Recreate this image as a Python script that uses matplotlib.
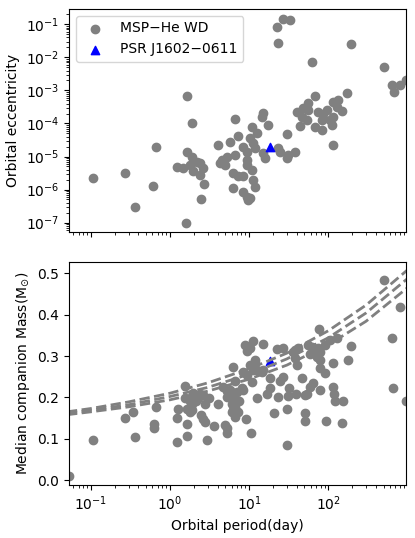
import numpy as np
import matplotlib
matplotlib.use("Agg")
import matplotlib.pyplot as plt
from matplotlib.ticker import LogLocator

# MSP - He WD binaries : orbital period (day) vs eccentricity
period_ecc = [0.105, 0.267, 0.361, 0.616, 0.659, 1.21, 1.47, 1.58, 1.66, 1.66,
              1.88, 1.88, 1.79, 2.17, 2.39, 2.64, 1.97, 2.39, 2.72, 2.47,
              4.08, 4.29, 4.50, 5.2, 5.74, 6.64, 7.31, 6.64, 4.96, 6.32,
              7.31, 8.45, 6.32, 8.45, 9.31, 9.78, 8.45, 9.31, 10.3, 10.8,
              11.3, 11.9, 12.5, 14.9, 14.4, 17.5, 15.1, 15.9, 9.31, 9.31,
              10.8, 11.3, 11.9, 10.3, 23.4, 24.6, 29.9, 31.3, 29.9, 38.0,
              22.3, 23.4, 27.1, 32.9, 63.0, 68.1, 171, 134, 116, 148,
              56.1, 48.5, 39.9, 56.1, 46.2, 53.5, 44.0, 68.1, 82.6, 75.0,
              86.8, 95.6, 82.6, 105, 116, 128, 111, 116, 192, 513,
              634, 679, 809, 950]
ecc = [2.2e-6, 3.1e-6, 3.0e-7, 1.3e-6, 2.0e-5, 4.9e-6, 4.4e-6, 9.5e-8, 1.4e-5, 6.8e-4,
       1.06e-4, 9.9e-6, 5.6e-6, 7.0e-6, 6.2e-6, 4.4e-6, 3.7e-6, 2.8e-6, 1.5e-6, 5.1e-7,
       2.2e-5, 6.5e-6, 7.9e-6, 9.9e-6, 2.8e-5, 1.37e-4, 4.2e-5, 1.1e-5, 5.6e-6, 3.1e-6,
       2.6e-6, 2.5e-6, 1.1e-6, 8.7e-7, 6.1e-7, 4.9e-7, 2.0e-5, 1.4e-5, 3.6e-5, 8.0e-5,
       2.5e-5, 1.8e-5, 5.0e-5, 2.1e-4, 1.6e-4, 9.0e-5, 1.25e-5, 8.8e-6, 7.9e-6, 5.6e-6,
       3.9e-6, 2.0e-6, 1.2e-6, 5.4e-7, 1.8e-5, 1.4e-5, 4.8e-5, 1.1e-5, 8.8e-6, 1.4e-5,
       0.085, 0.028, 0.142, 0.135, 7.4e-3, 7.0e-4, 8.2e-4, 5.1e-4, 4.6e-4, 2.45e-4,
       4.1e-4, 2.9e-4, 2.3e-4, 2.6e-4, 1.6e-4, 1.3e-4, 8.4e-5, 7.7e-5, 6.4e-5, 2.3e-4,
       2.0e-4, 2.6e-4, 1.3e-4, 1.3e-4, 1.6e-4, 3.2e-4, 9.0e-5, 2.2e-5, 0.025, 5.2e-3,
       1.46e-3, 9.2e-4, 1.46e-3, 2.1e-3]

# orbital period (day) vs median companion mass (Msun)
period_mass = [0.053, 0.105, 0.27, 0.34, 0.36, 0.62, 0.62, 0.66,
               1.21, 1.23, 1.25, 1.55, 1.55, 1.62, 1.62, 1.66, 1.79, 1.88, 1.97, 2.11,
               2.17, 2.39, 2.28, 2.44, 2.64, 2.77, 2.97, 3.14, 2.77, 3.60,
               4.08, 4.96, 5.20, 5.20, 4.72, 5.31, 6.20, 6.64, 5.74, 6.32,
               6.02, 6.64, 6.02, 6.64, 7.53, 8.06, 8.45, 9.14, 8.87, 9.50,
               11.1, 15.1, 9.31, 10.3, 11.9, 12.5, 14.4, 10.8, 6.96, 8.45,
               7.31, 10.5, 12.7, 16.7, 18.4, 20.6, 22.7, 23.4, 27.1, 24.6,
               29.9, 30.4, 32.3, 31.3, 39.2, 38.0, 39.9, 46.2, 50.9, 50.9,
               54.5, 58.9, 64.9, 75.0, 77.3, 78.8, 78.8, 91.1, 93.8, 116,
               114, 118, 122, 128, 152, 148, 180, 192, 513, 634,
               666, 809, 950, 56.1, 61.8, 68.1, 58.9, 78.8, 91.1, 105,
               78.8, 71.5, 36.3, 38.0, 41.9, 27.1, 10.3, 11.9, 15.1, 11.3,
               18.4, 50.9, 5.20, 6.32, 1.79, 1.88, 2.64, 5.74, 6.32]
mass = [0.010, 0.097, 0.149, 0.164, 0.103, 0.135, 0.125, 0.176,
        0.151, 0.091, 0.171, 0.227, 0.199, 0.172, 0.135, 0.107, 0.165, 0.183, 0.210, 0.190,
        0.202, 0.207, 0.198, 0.157, 0.148, 0.140, 0.097, 0.199, 0.184, 0.131,
        0.185, 0.133, 0.125, 0.113, 0.226, 0.216, 0.274, 0.240, 0.202, 0.210,
        0.184, 0.177, 0.165, 0.153, 0.190, 0.222, 0.262, 0.147, 0.327, 0.312,
        0.336, 0.328, 0.254, 0.278, 0.282, 0.266, 0.262, 0.238, 0.214, 0.218,
        0.165, 0.113, 0.199, 0.208, 0.222, 0.161, 0.317, 0.202, 0.250, 0.240,
        0.085, 0.171, 0.222, 0.203, 0.208, 0.315, 0.278, 0.246, 0.161, 0.144,
        0.208, 0.226, 0.234, 0.319, 0.365, 0.270, 0.218, 0.258, 0.144, 0.282,
        0.226, 0.208, 0.190, 0.343, 0.190, 0.139, 0.290, 0.325, 0.484, 0.343,
        0.223, 0.418, 0.190, 0.327, 0.321, 0.315, 0.306, 0.310, 0.327, 0.339,
        0.290, 0.297, 0.310, 0.294, 0.319, 0.319, 0.319, 0.290, 0.266, 0.266,
        0.246, 0.206, 0.202, 0.198, 0.190, 0.169, 0.206, 0.218, 0.169]

# PSR J1602-0611
psr_period = 18.4
psr_ecc = 1.9e-5
psr_mass = 0.289

# Pb - Mwd relation (three dashed curves)
curve_period = [0.05, 0.1, 0.3, 1, 3, 10, 30, 100, 300, 1000]
curve_a = [0.158, 0.165, 0.177, 0.194, 0.215, 0.244, 0.278, 0.327, 0.384, 0.465]
curve_b = [0.161, 0.169, 0.182, 0.202, 0.224, 0.256, 0.293, 0.344, 0.404, 0.487]
curve_c = [0.165, 0.173, 0.189, 0.210, 0.235, 0.269, 0.307, 0.361, 0.423, 0.508]

fig, (ax1, ax2) = plt.subplots(2, 1, sharex=True, figsize=(4.15, 5.38), dpi=100)
plt.subplots_adjust(left=0.1663, right=0.9783, top=0.9833, bottom=0.0985, hspace=0.132)

# top panel : eccentricity
ax1.scatter(period_ecc, ecc, color="gray", label="MSP\u2212He WD")
ax1.scatter(psr_period, psr_ecc, color="blue", marker="^", label="PSR J1602\u22120611")
ax1.set_yscale("log")
ax1.set_xscale("log")
ax1.set_ylim(5.1e-8, 0.291)
ax1.yaxis.set_major_locator(LogLocator(base=10, numticks=20))
ax1.yaxis.set_minor_locator(LogLocator(base=10, subs=np.arange(2, 10), numticks=20))
ax1.set_ylabel("Orbital eccentricity")
ax1.legend(loc="upper left")

# bottom panel : companion mass
ax2.scatter(period_mass, mass, color="gray")
ax2.scatter(psr_period, psr_mass, color="blue", marker="^")
for c in [curve_a, curve_b, curve_c]:
    ax2.plot(curve_period, c, "--", color="gray", lw=2)
ax2.set_xscale("log")
ax2.set_xlim(0.053, 960)
ax2.set_ylim(-0.012, 0.528)
ax2.set_xlabel("Orbital period(day)")
ax2.set_ylabel("Median companion Mass(M$_{\\odot}$)")

plt.savefig("out.png", dpi=100)
